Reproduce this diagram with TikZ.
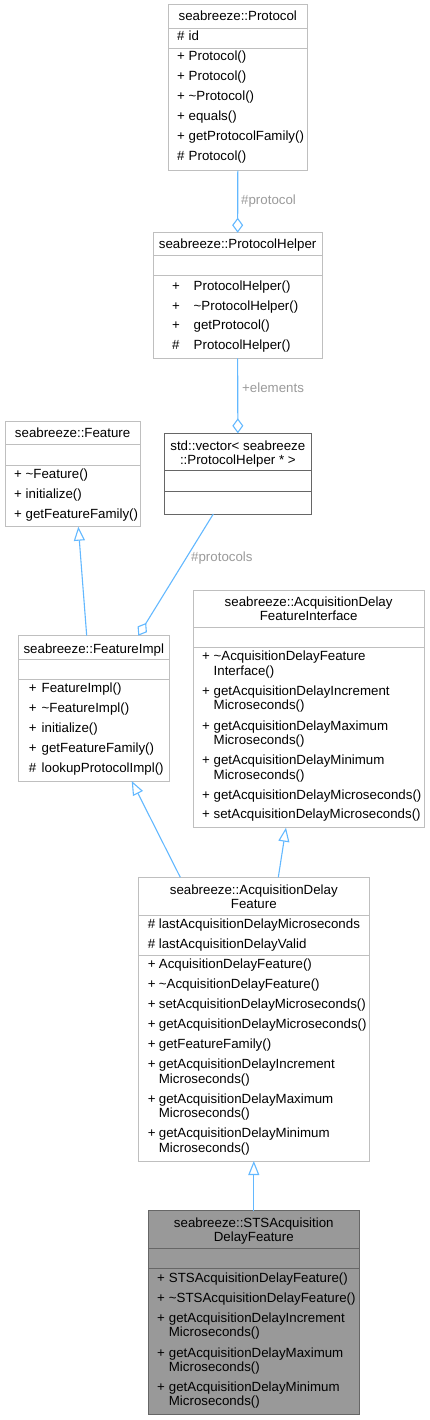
\documentclass[tikz,border=0pt]{standalone}
\usepackage{fontspec}
\setmainfont{Liberation Sans}
\usetikzlibrary{arrows.meta,calc}
\definecolor{edgec}{HTML}{63B8FF}
\definecolor{bordc}{HTML}{BFBFBF}
\definecolor{lblc}{HTML}{9A9A9A}
\definecolor{dbordc}{HTML}{666666}
\definecolor{dfillc}{HTML}{999999}
\newcommand\umlbox[6][boxst]{\node[#1, anchor=north west, minimum width={#5-#3}, minimum height={#6-#4}] (#2) at (#3,#4) {};}
\newcommand\mem[6]{\node[txt] (#1a) at (#2,#4) {#5}; \node[txt] (#1b) at (#3,#4) {#6};}
\newcommand\cont[4]{\node[txt] (#1) at (#2,#3) {#4};}
\begin{document}
\begin{tikzpicture}[x=1pt,y=-1pt,
  boxst/.style={draw=bordc, line width=1pt, fill=white, inner sep=0pt, outer sep=0pt},
  darkbox/.style={draw=dbordc, line width=1pt, fill=white, inner sep=0pt, outer sep=0pt},
  stsbox/.style={draw=dbordc, line width=1pt, fill=dfillc, inner sep=0pt, outer sep=0pt},
  sepl/.style={draw=bordc, line width=1pt},
  dsepl/.style={draw=dbordc, line width=1pt},
  txt/.style={anchor=base west, inner sep=0pt, font=\fontsize{13.3}{14.5}\selectfont},
  ttl/.style={anchor=base, inner sep=0pt, font=\fontsize{13.3}{14.5}\selectfont},
  lbl/.style={anchor=base west, inner sep=0pt, text=lblc, font=\fontsize{13.3}{14.5}\selectfont},
  edge/.style={draw=edgec, line width=1.1pt},
  agg/.style={edge, -{Diamond[open, length=15pt, width=11pt, line width=1.1pt]}},
  inh/.style={edge, -{Triangle[open, length=14pt, width=11pt, line width=1.1pt]}}
]
\useasboundingbox (0,0) rectangle (429,1420);

% ---------- Protocol ----------
\umlbox{protocol}{168.3}{4.7}{307.3}{170.7}
\draw[sepl] (168.3,28.3) -- (307.3,28.3);
\draw[sepl] (168.3,48.3) -- (307.3,48.3);
\node[ttl] (protocolT) at (237.8,20.3) {seabreeze::Protocol};
\mem{pa}{177}{188.5}{40.3}{\#}{id}
\mem{pb}{177}{188.5}{61}{+}{Protocol()}
\mem{pc}{177}{188.5}{81}{+}{Protocol()}
\mem{pd}{177}{188.5}{101}{+}{\textasciitilde Protocol()}
\mem{pe}{177}{188.5}{121}{+}{equals()}
\mem{pf}{177}{188.5}{141}{+}{getProtocolFamily()}
\mem{pg}{177}{188.5}{161}{\#}{Protocol()}

% ---------- ProtocolHelper ----------
\umlbox{helper}{153.3}{232.7}{322}{358.3}
\draw[sepl] (153.3,256) -- (322,256);
\draw[sepl] (153.3,275.7) -- (322,275.7);
\node[ttl] (helperT) at (237.65,248.6) {seabreeze::ProtocolHelper};
\mem{ha}{172}{193.5}{290.3}{+}{ProtocolHelper()}
\mem{hb}{172}{193.5}{310.1}{+}{\textasciitilde ProtocolHelper()}
\mem{hc}{172}{193.5}{329.9}{+}{getProtocol()}
\mem{hd}{172}{193.5}{349.7}{\#}{ProtocolHelper()}

% ---------- std::vector ----------
\umlbox[darkbox]{vector}{164}{433.3}{311.7}{514}
\draw[dsepl] (164,470.7) -- (311.7,470.7);
\draw[dsepl] (164,491) -- (311.7,491);
\node[ttl] (vectorT1) at (237.85,450) {std::vector< seabreeze};
\node[ttl] (vectorT2) at (237.85,464.3) {::ProtocolHelper * >};

% ---------- Feature ----------
\umlbox{feature}{5.3}{421.7}{140}{526.7}
\draw[sepl] (5.3,444.3) -- (140,444.3);
\draw[sepl] (5.3,465) -- (140,465);
\node[ttl] (featureT) at (72.65,437.6) {seabreeze::Feature};
\mem{fa}{14}{25.5}{478.3}{+}{\textasciitilde Feature()}
\mem{fb}{14}{25.5}{498.3}{+}{initialize()}
\mem{fc}{14}{25.5}{518.3}{+}{getFeatureFamily()}

% ---------- FeatureImpl ----------
\umlbox{fimpl}{18.3}{635.7}{169.3}{781}
\draw[sepl] (18.3,659.3) -- (169.3,659.3);
\draw[sepl] (18.3,679.3) -- (169.3,679.3);
\node[ttl] (fimplT) at (93.8,653.3) {seabreeze::FeatureImpl};
\mem{ia}{28.7}{41.5}{692.6}{+}{FeatureImpl()}
\mem{ib}{28.7}{41.5}{712.6}{+}{\textasciitilde FeatureImpl()}
\mem{ic}{28.7}{41.5}{732.6}{+}{initialize()}
\mem{id}{28.7}{41.5}{752.6}{+}{getFeatureFamily()}
\mem{ie}{28.7}{41.5}{772.6}{\#}{lookupProtocolImpl()}

% ---------- AcquisitionDelayFeatureInterface ----------
\umlbox{iface}{193.3}{590}{424}{827.7}
\draw[sepl] (193.3,627.3) -- (424,627.3);
\draw[sepl] (193.3,647.3) -- (424,647.3);
\node[ttl] (ifaceT1) at (308.65,606) {seabreeze::AcquisitionDelay};
\node[ttl] (ifaceT2) at (308.65,620.3) {FeatureInterface};
\mem{ja}{202}{213.5}{660.3}{+}{\textasciitilde AcquisitionDelayFeature}
\cont{jac}{213.5}{675}{Interface()}
\mem{jb}{202}{213.5}{695}{+}{getAcquisitionDelayIncrement}
\cont{jbc}{213.5}{709.6}{Microseconds()}
\mem{jc}{202}{213.5}{730}{+}{getAcquisitionDelayMaximum}
\cont{jcc}{213.5}{744.3}{Microseconds()}
\mem{jd}{202}{213.5}{764.3}{+}{getAcquisitionDelayMinimum}
\cont{jdc}{213.5}{779}{Microseconds()}
\mem{je}{202}{213.5}{799}{+}{getAcquisitionDelayMicroseconds()}
\mem{jf}{202}{213.5}{818.6}{+}{setAcquisitionDelayMicroseconds()}

% ---------- AcquisitionDelayFeature ----------
\umlbox{adf}{138.3}{877.3}{369.3}{1161}
\draw[sepl] (138.3,915) -- (369.3,915);
\draw[sepl] (138.3,955.7) -- (369.3,955.7);
\node[ttl] (adfT1) at (253.8,894.3) {seabreeze::AcquisitionDelay};
\node[ttl] (adfT2) at (253.8,908.3) {Feature};
\mem{ka}{147.7}{158.7}{928.3}{\#}{lastAcquisitionDelayMicroseconds}
\mem{kb}{147.7}{158.7}{948.3}{\#}{lastAcquisitionDelayValid}
\mem{kc}{147.7}{158.7}{968.6}{+}{AcquisitionDelayFeature()}
\mem{kd}{147.7}{158.7}{988.6}{+}{\textasciitilde AcquisitionDelayFeature()}
\mem{ke}{147.7}{158.7}{1008.6}{+}{setAcquisitionDelayMicroseconds()}
\mem{kf}{147.7}{158.7}{1028.6}{+}{getAcquisitionDelayMicroseconds()}
\mem{kg}{147.7}{158.7}{1048.6}{+}{getFeatureFamily()}
\mem{kh}{147.7}{158.7}{1068.3}{+}{getAcquisitionDelayIncrement}
\cont{khc}{158.7}{1083}{Microseconds()}
\mem{ki}{147.7}{158.7}{1103.3}{+}{getAcquisitionDelayMaximum}
\cont{kic}{158.7}{1117.6}{Microseconds()}
\mem{kj}{147.7}{158.7}{1137.6}{+}{getAcquisitionDelayMinimum}
\cont{kjc}{158.7}{1152.3}{Microseconds()}

% ---------- STSAcquisitionDelayFeature ----------
\umlbox[stsbox]{sts}{148.3}{1210.7}{359.3}{1414}
\draw[dsepl] (148.3,1248.3) -- (359.3,1248.3);
\draw[dsepl] (148.3,1268.3) -- (359.3,1268.3);
\node[ttl] (stsT1) at (253.8,1227.6) {seabreeze::STSAcquisition};
\node[ttl] (stsT2) at (253.8,1241.6) {DelayFeature};
\mem{sa}{157}{168.7}{1282.6}{+}{STSAcquisitionDelayFeature()}
\mem{sb}{157}{168.7}{1302.6}{+}{\textasciitilde STSAcquisitionDelayFeature()}
\mem{sc}{157}{168.7}{1322}{+}{getAcquisitionDelayIncrement}
\cont{scc}{168.7}{1336.3}{Microseconds()}
\mem{sd}{157}{168.7}{1357}{+}{getAcquisitionDelayMaximum}
\cont{sdc}{168.7}{1371}{Microseconds()}
\mem{se}{157}{168.7}{1391}{+}{getAcquisitionDelayMinimum}
\cont{sec}{168.7}{1405.3}{Microseconds()}

% ---------- connectors ----------
\draw[agg] (protocol.south) -- (helper.north);
\node[lbl] (lprotocol) at (241,205) {\#protocol};
\draw[agg] (helper.south) -- (vector.north);
\node[lbl] (lelements) at (242,392.6) {+elements};
\draw[agg] ($(vector.south west)+(49.3,0)$) -- ($(fimpl.north west)+(120,0)$);
\node[lbl] (lprotocols) at (191,561) {\#protocols};
\draw[inh] ($(fimpl.north west)+(68.4,0)$) -- ($(feature.south west)+(73,0)$);
\draw[inh] ($(adf.north west)+(42,0)$) -- ($(fimpl.south west)+(113.4,0)$);
\draw[inh] ($(adf.north west)+(140,0)$) -- ($(iface.south west)+(92.7,0)$);
\draw[inh] (sts.north) -- (adf.south);
\end{tikzpicture}
\end{document}
